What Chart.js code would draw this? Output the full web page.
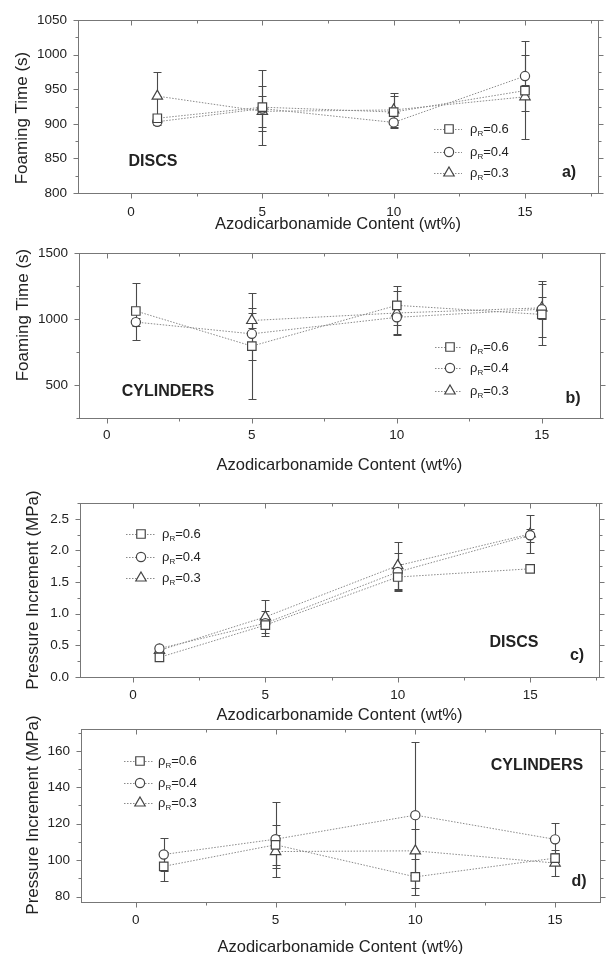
<!DOCTYPE html>
<html>
<head>
<meta charset="utf-8">
<script src="https://cdn.jsdelivr.net/npm/chart.js@4.4.0/dist/chart.umd.min.js"></script>
<style>
  body { margin: 0; background: #fff; width: 607px; height: 954px; position: relative; overflow: hidden; }
  canvas { position: absolute; left: 0; }
</style>
</head>
<body>
<canvas id="panelA" width="607" height="234" style="top:0px"></canvas>
<canvas id="panelB" width="607" height="246" style="top:234px"></canvas>
<canvas id="panelC" width="607" height="245" style="top:480px"></canvas>
<canvas id="panelD" width="607" height="249" style="top:705px"></canvas>
<script>
// ---------- data ----------
const xContent = [1, 5, 10, 15];
const densityLabels = ['0.6', '0.4', '0.3'];
const xTickVals = [0, 5, 10, 15];

// a) foaming time, discs
const discTime06 = [908, 924, 917, 948];
const discTime06Err = [5, 54, 23, 8];
const discTime04 = [903, 922, 902, 969];
const discTime04Err = [5, 32, 4, 50];
const discTime03 = [940, 918, 920, 939];
const discTime03Err = [35, 22, 25, 61];
const timeDiscTicks = [800, 850, 900, 950, 1000, 1050];

// b) foaming time, cylinders
const cylTime06 = [1061, 795, 1104, 1035];
const cylTime06Err = [216, 403, 150, 230];
const cylTime04 = [977, 888, 1013, 1075];
const cylTime04Err = [30, 198, 125, 210];
const cylTime03 = [null, 989, 1046, 1085];
const cylTime03Err = [null, 60, 170, 84];
const timeCylTicks = [500, 1000, 1500];

// c) pressure increment, discs
const discPress06 = [0.31, 0.82, 1.58, 1.71];
const discPress06Err = [0.04, 0.05, 0.2, 0.05];
const discPress04 = [0.45, 0.85, 1.66, 2.24];
const discPress04Err = [0.04, 0.2, 0.3, 0.1];
const discPress03 = [0.42, 0.95, 1.76, 2.26];
const discPress03Err = [0.05, 0.26, 0.37, 0.3];
const pressDiscTicks = [0, 0.5, 1, 1.5, 2, 2.5];

// d) pressure increment, cylinders
const cylPress06 = [96.6, 108.4, 90.8, 101.1];
const cylPress06Err = [8, 11, 10, 3];
const cylPress04 = [103.1, 111.5, 124.7, 111.4];
const cylPress04Err = [9, 20.5, 40, 8.8];
const cylPress03 = [null, 104.7, 105.1, 98.4];
const cylPress03Err = [null, 9, 12, 7];
const pressCylTicks = [80, 100, 120, 140, 160];

// ---------- estilo ----------
const FONT = "'Liberation Sans', Arial, sans-serif";
const INK = '#222';
const AXIS = '#777';
const MARK = '#444';
const markerStyles = [
  { pointStyle: 'rect', radius: 6 },
  { pointStyle: 'circle', radius: 4.6 },
  { pointStyle: 'triangle', radius: 6 }
];

function buildDataset(values, errors, idx) {
  const m = markerStyles[idx];
  return {
    label: densityLabels[idx],
    data: xContent.map((x, i) => ({ x: x, y: values[i] })),
    errors: errors,
    borderColor: '#8a8a8a',
    borderWidth: 1,
    borderDash: [1.5, 1.5],
    pointStyle: m.pointStyle,
    pointRadius: m.radius,
    pointBorderColor: MARK,
    pointBackgroundColor: '#fff',
    pointBorderWidth: 1.2,
    tension: 0,
    spanGaps: false
  };
}

// barras de erro, desenhadas pelas escalas do gráfico
const errorBars = {
  id: 'errorBars',
  beforeDatasetsDraw(chart) {
    const { ctx, scales: { x, y } } = chart;
    ctx.save();
    ctx.strokeStyle = '#4a4a4a';
    ctx.lineWidth = 1.1;
    chart.data.datasets.forEach(ds => {
      ds.data.forEach((p, i) => {
        const e = ds.errors[i];
        if (p.y == null || !e) return;
        const px = Math.round(x.getPixelForValue(p.x)) + 0.5;
        const top = Math.round(y.getPixelForValue(p.y + e)) + 0.5;
        const bot = Math.round(y.getPixelForValue(p.y - e)) + 0.5;
        ctx.beginPath();
        ctx.moveTo(px, top); ctx.lineTo(px, bot);
        ctx.moveTo(px - 4, top); ctx.lineTo(px + 4, top);
        ctx.moveTo(px - 4, bot); ctx.lineTo(px + 4, bot);
        ctx.stroke();
      });
    });
    ctx.restore();
  }
};

// moldura + ticks nos 4 lados (maiores e menores) + título do eixo y
const frameTicks = {
  id: 'frameTicks',
  afterDraw(chart) {
    const { ctx, chartArea: a, scales: { x, y } } = chart;
    const cfg = chart.options.plugins.frameTicks;
    ctx.save();
    ctx.strokeStyle = AXIS;
    ctx.lineWidth = 1;
    const L = Math.round(a.left) + 0.5, R = Math.round(a.right) + 0.5;
    const T = Math.round(a.top) + 0.5, B = Math.round(a.bottom) + 0.5;
    ctx.strokeRect(L, T, R - L, B - T);
    ctx.beginPath();
    const isMajor = (v, step) => Math.abs(v / step - Math.round(v / step)) < 1e-6;
    for (let v = Math.ceil(x.min / 2.5) * 2.5; v <= x.max + 1e-9; v += 2.5) {
      const px = Math.round(x.getPixelForValue(v)) + 0.5;
      const len = isMajor(v, 5) ? 5 : 3;
      ctx.moveTo(px, B); ctx.lineTo(px, B + len);
      ctx.moveTo(px, T); ctx.lineTo(px, T + len);
    }
    const ms = cfg.minorStep;
    for (let v = Math.ceil(y.min / ms - 1e-9) * ms; v <= y.max + 1e-9; v += ms) {
      const py = Math.round(y.getPixelForValue(v)) + 0.5;
      const len = isMajor(v, cfg.majorStep) ? 5 : 3;
      ctx.moveTo(L, py); ctx.lineTo(L - len, py);
      ctx.moveTo(R, py); ctx.lineTo(R + len, py);
    }
    ctx.stroke();

    // título vertical (posição própria, o do Chart.js fica sempre centrado)
    ctx.translate(cfg.titleX, cfg.titleY);
    ctx.rotate(-Math.PI / 2);
    ctx.fillStyle = INK;
    ctx.font = '17px ' + FONT;
    ctx.textAlign = 'center';
    ctx.textBaseline = 'middle';
    ctx.fillText(cfg.title, 0, 0);
    ctx.restore();
  }
};

// legenda interna e rótulos de painel
const insideLegend = {
  id: 'insideLegend',
  afterDraw(chart) {
    const { ctx } = chart;
    const cfg = chart.options.plugins.insideLegend;
    ctx.save();
    chart.data.datasets.forEach((ds, i) => {
      const yy = cfg.ys[i];
      ctx.strokeStyle = '#8a8a8a';
      ctx.lineWidth = 1;
      ctx.setLineDash([1.5, 1.5]);
      ctx.beginPath();
      ctx.moveTo(cfg.x0, yy + 0.5); ctx.lineTo(cfg.x1, yy + 0.5);
      ctx.stroke();
      ctx.setLineDash([]);
      ctx.strokeStyle = MARK;
      ctx.fillStyle = '#fff';
      ctx.lineWidth = 1.2;
      Chart.helpers.drawPoint(ctx, {
        pointStyle: ds.pointStyle, radius: ds.pointRadius, rotation: 0, borderWidth: 1.2
      }, cfg.mx, yy);
      ctx.fillStyle = INK;
      ctx.textBaseline = 'middle';
      ctx.textAlign = 'left';
      let tx = cfg.tx;
      ctx.font = '13px ' + FONT;
      ctx.fillText('ρ', tx, yy);
      tx += ctx.measureText('ρ').width;
      ctx.font = '8px ' + FONT;
      ctx.fillText('R', tx, yy + 5);
      tx += ctx.measureText('R').width;
      ctx.font = '13px ' + FONT;
      ctx.fillText('=' + ds.label, tx, yy);
    });
    ctx.font = 'bold 16px ' + FONT;
    ctx.textAlign = 'center';
    cfg.notes.forEach(n => ctx.fillText(n[0], n[1], n[2]));
    ctx.restore();
  }
};

function makePanel(id, p) {
  const H = document.getElementById(id).height;
  new Chart(document.getElementById(id), {
    type: 'line',
    data: {
      datasets: p.series.map((s, i) => buildDataset(s[0], s[1], i))
    },
    options: {
      responsive: false,
      animation: false,
      layout: { padding: { top: p.T, right: 607 - p.R, left: 0, bottom: 0 } },
      plugins: {
        legend: { display: false },
        tooltip: { enabled: false },
        frameTicks: { minorStep: p.minorStep, majorStep: p.majorStep, title: p.yTitle, titleX: p.yTitleX, titleY: p.yTitleY },
        insideLegend: p.legend
      },
      scales: {
        x: {
          type: 'linear',
          min: p.xMin,
          max: p.xMax,
          afterFit: s => { s.height = H - p.B; },
          afterBuildTicks: s => { s.ticks = xTickVals.map(v => ({ value: v })); },
          grid: { display: false, drawTicks: false },
          border: { display: false },
          ticks: { padding: p.xTickPad, color: INK, font: { size: 13.5, family: FONT }, maxRotation: 0, callback: v => String(v) },
          title: { display: true, text: 'Azodicarbonamide Content (wt%)', color: INK, font: { size: 16.5, family: FONT, lineHeight: 0.8 }, padding: { top: 0, bottom: p.xTitlePad } }
        },
        y: {
          type: 'linear',
          min: p.yMin,
          max: p.yMax,
          afterFit: s => { s.width = p.L; },
          afterBuildTicks: s => { s.ticks = p.yTicks.map(v => ({ value: v })); },
          grid: { display: false, drawTicks: false },
          border: { display: false },
          ticks: { padding: 11, color: INK, font: { size: 13.5, family: FONT }, callback: p.yFmt },
          title: { display: false }
        }
      }
    },
    plugins: [errorBars, frameTicks, insideLegend]
  });
}

makePanel('panelA', {
  T: 20, B: 193, L: 78, R: 598, xMin: -2.02, xMax: 17.78,
  yMin: 800, yMax: 1050, yTicks: timeDiscTicks, minorStep: 25, majorStep: 50,
  yFmt: v => String(v), yTitle: 'Foaming Time (s)', yTitleX: 22, yTitleY: 118, xTickPad: 11, xTitlePad: 3.4,
  series: [[discTime06, discTime06Err], [discTime04, discTime04Err], [discTime03, discTime03Err]],
  legend: { x0: 434, x1: 462, mx: 449, tx: 470, ys: [129, 152, 173], notes: [['DISCS', 153, 162], ['a)', 569, 173]] }
});

makePanel('panelB', {
  T: 10, B: 184, L: 79, R: 603, xMin: -0.96, xMax: 17,
  yMin: 250, yMax: 1500, yTicks: timeCylTicks, minorStep: 250, majorStep: 500,
  yFmt: v => String(v), yTitle: 'Foaming Time (s)', yTitleX: 23, yTitleY: 81, xTickPad: 9, xTitlePad: 8.4,
  series: [[cylTime06, cylTime06Err], [cylTime04, cylTime04Err], [cylTime03, cylTime03Err]],
  legend: { x0: 435, x1: 462, mx: 450, tx: 470, ys: [113, 134, 157], notes: [['CYLINDERS', 168, 158], ['b)', 573, 165]] }
});

makePanel('panelC', {
  T: 23, B: 197, L: 80, R: 599, xMin: -2.0, xMax: 17.6,
  yMin: 0, yMax: 2.75, yTicks: pressDiscTicks, minorStep: 0.25, majorStep: 0.5,
  yFmt: v => v.toFixed(1), yTitle: 'Pressure Increment (MPa)', yTitleX: 33, yTitleY: 110, xTickPad: 10, xTitlePad: 3.4,
  series: [[discPress06, discPress06Err], [discPress04, discPress04Err], [discPress03, discPress03Err]],
  legend: { x0: 126, x1: 156, mx: 141, tx: 162, ys: [54, 77, 98], notes: [['DISCS', 514, 163], ['c)', 577, 176]] }
});

makePanel('panelD', {
  T: 24, B: 197, L: 81, R: 602, xMin: -1.96, xMax: 16.6,
  yMin: 77, yMax: 172, yTicks: pressCylTicks, minorStep: 10, majorStep: 20,
  yFmt: v => String(v), yTitle: 'Pressure Increment (MPa)', yTitleX: 33, yTitleY: 110, xTickPad: 10, xTitlePad: 0.4,
  series: [[cylPress06, cylPress06Err], [cylPress04, cylPress04Err], [cylPress03, cylPress03Err]],
  legend: { x0: 124, x1: 154, mx: 140, tx: 158, ys: [56, 78, 98], notes: [['CYLINDERS', 537, 61], ['d)', 579, 177]] }
});
</script>
</body>
</html>
